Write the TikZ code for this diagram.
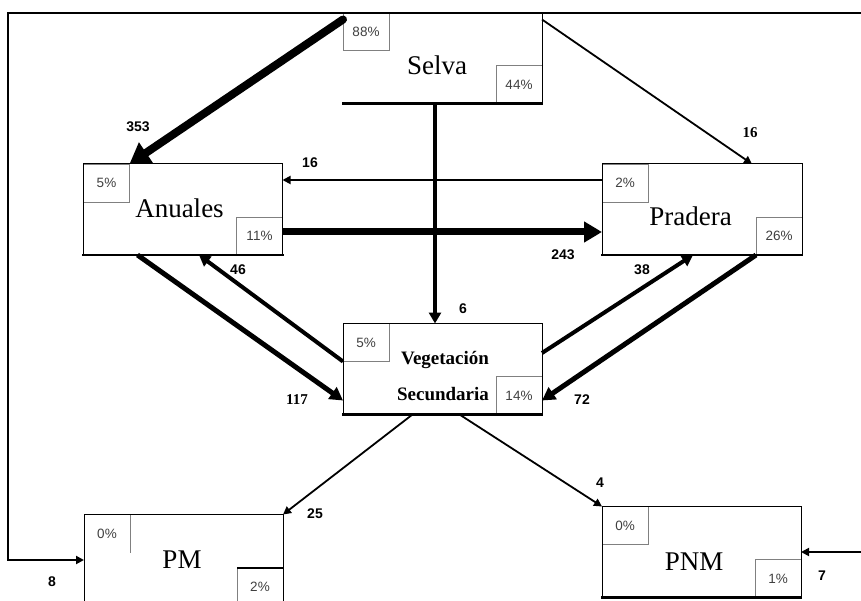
\documentclass[tikz,border=0pt]{standalone}
\usepackage{fontspec}
\setmainfont{Liberation Serif}
\newfontfamily\lsans{Liberation Sans}
\usetikzlibrary{arrows.meta,calc}
\tikzset{
  mainbox/.style={minimum width=199pt, minimum height=91pt, inner sep=0pt, outer sep=0pt},
  pctbox/.style={minimum width=46pt, minimum height=38pt, inner sep=0pt, outer sep=0pt,
    draw=black!50, line width=0.9pt, font=\lsans\fontsize{13.5}{14}\selectfont, text=black!75},
  pctnodraw/.style={pctbox, draw=none},
  boxline/.style={line width=1pt, line cap=rect},
  boxbottom/.style={line width=2.2pt, line cap=rect},
  titletext/.style={anchor=base, inner sep=0pt, font=\fontsize{27}{30}\selectfont},
  vstext/.style={anchor=base, inner sep=0pt, font=\bfseries\fontsize{19}{22}\selectfont},
  flowlabel/.style={inner sep=0pt, font=\lsans\bfseries\fontsize{14}{16}\selectfont},
  flowlabelserif/.style={inner sep=0pt, font=\bfseries\fontsize{15}{17}\selectfont},
  flowT/.style={line width=1.8pt, -{Triangle[length=8pt,width=8pt]}},
  flowM/.style={line width=4pt, -{Triangle[length=11pt,width=12pt]}},
  flowL/.style={line width=5pt, -{Triangle[length=13pt,width=14pt]}},
  flowXL/.style={line width=7pt, -{Triangle[length=18pt,width=20pt]}},
  flowXXL/.style={line width=8pt, line cap=round, -{Triangle[length=20pt,width=24pt]}},
}
\begin{document}
\begin{tikzpicture}[x=1pt,y=-1pt]
\clip (0,0) rectangle (861,601);
\fill[white] (0,0) rectangle (861,601);

% main boxes (named, outlines drawn later)
\node[mainbox] (selva) at (442.5,58) {};
\node[mainbox] (anu) at (183,209.5) {};
\node[mainbox, minimum width=200pt] (pra) at (702,209.5) {};
\node[mainbox] (vs) at (442.5,369) {};
\node[mainbox] (pm) at (183.5,560) {};
\node[mainbox] (pnm) at (701.5,552) {};

% percentage boxes
\node[pctbox, anchor=north west] (selvaA) at (selva.north west) {88\%};
\node[pctbox, anchor=south east] (selvaB) at (selva.south east) {44\%};
\node[pctbox, anchor=north west] (anuA) at (anu.north west) {5\%};
\node[pctbox, anchor=south east] (anuB) at (anu.south east) {11\%};
\node[pctbox, anchor=north west] (praA) at (pra.north west) {2\%};
\node[pctbox, anchor=south east] (praB) at (pra.south east) {26\%};
\node[pctbox, anchor=north west] (vsA) at (vs.north west) {5\%};
\node[pctbox, anchor=south east] (vsB) at (vs.south east) {14\%};
\node[pctnodraw, anchor=north west] (pmA) at (pm.north west) {0\%};
\node[pctbox, anchor=south east] (pmB) at (pm.south east) {2\%};
\node[pctbox, anchor=north west] (pnmA) at (pnm.north west) {0\%};
\node[pctbox, anchor=south east] (pnmB) at (pnm.south east) {1\%};
\draw[draw=black!50, line width=0.9pt] (pmA.north east) -- (pmA.south east);
\draw[line width=2pt] (pmB.north west) -- (pmB.north east);

% outlines
\draw[boxline] (selva.north east) -- (selva.south east);
\draw[boxbottom] (selva.south west) -- (selva.south east);
\foreach \b in {anu,pra,vs,pm,pnm}{
  \draw[boxline] (\b.south west) -- (\b.north west) -- (\b.north east) -- (\b.south east);
  \draw[boxbottom] (\b.south west) -- (\b.south east);
}

% titles
\node[titletext] (selvaT) at ($(selva.center)+(-5.5,17)$) {Selva};
\node[titletext] (anuT) at ($(anu.center)+(-3.5,8.5)$) {Anuales};
\node[titletext] (praT) at ($(pra.center)+(-11.5,16.5)$) {Pradera};
\node[titletext] (pmT) at ($(pm.center)+(-1.5,8)$) {PM};
\node[titletext] (pnmT) at ($(pnm.center)+(-7.5,18)$) {PNM};
\node[vstext] (vsT1) at ($(vs.center)+(2.5,-5)$) {Vegetación};
\node[vstext] (vsT2) at ($(vs.center)+(0.5,31)$) {Secundaria};

% frame connector to PM
\coordinate (frameTR) at (863,13);
\coordinate (frameTL) at (8,13);
\draw[line width=2pt, -{Triangle[length=8pt,width=8pt]}] (frameTR) -- (frameTL) -- (frameTL |- pm.west) -- (pm.west);
% right connector to PNM
\coordinate (rEnd) at (pnm.east -| frameTR);
\draw[flowT] (rEnd) -- (pnm.east);

% flows
\draw[flowXXL] ([yshift=-7pt]selva.north west) -- (anuA.north east);
\draw[flowT] ([yshift=-7pt]selva.north east) -- ([xshift=50pt]pra.north);
\coordinate (c3) at ([yshift=3pt]praA.west);
\draw[flowT] (c3) -- (c3 -| anu.east);
\coordinate (c4) at ([yshift=4pt]anuB.east);
\draw[flowXL] (c4) -- (c4 -| pra.west);
\coordinate (c5) at ([xshift=-7.5pt]selva.south);
\draw[flowM] (c5) -- (c5 |- vs.north);
\draw[flowL] ([xshift=54pt]anu.south west) -- ([yshift=14pt]vs.south west);
\draw[flowM] (vsA.south west) -- ([xshift=16pt]anu.south);
\draw[flowM] ([yshift=16pt]vs.east) -- ([xshift=-9pt]pra.south);
\draw[flowL] (praB.south west) -- ([yshift=14pt]vs.south east);
\draw[flowT] ([xshift=-30pt]vs.south) -- (pm.north east);
\draw[flowT] ([xshift=17pt]vs.south) -- (pnm.north west);

% labels
\node[flowlabel] (l353) at (138,127) {353};
\node[flowlabelserif] (l16a) at (750,133) {16};
\node[flowlabel] (l16b) at (310,163) {16};
\node[flowlabel] (l243) at (563,255) {243};
\node[flowlabel] (l6) at (463,309) {6};
\node[flowlabelserif] (l117) at (297,400) {117};
\node[flowlabel] (l46) at (238,270) {46};
\node[flowlabel] (l38) at (642,270) {38};
\node[flowlabel] (l72) at (582,400) {72};
\node[flowlabel] (l25) at (315,514) {25};
\node[flowlabel] (l4) at (600,483) {4};
\node[flowlabel] (l8) at (52,582) {8};
\node[flowlabel] (l7) at (822,576) {7};
\end{tikzpicture}
\end{document}
